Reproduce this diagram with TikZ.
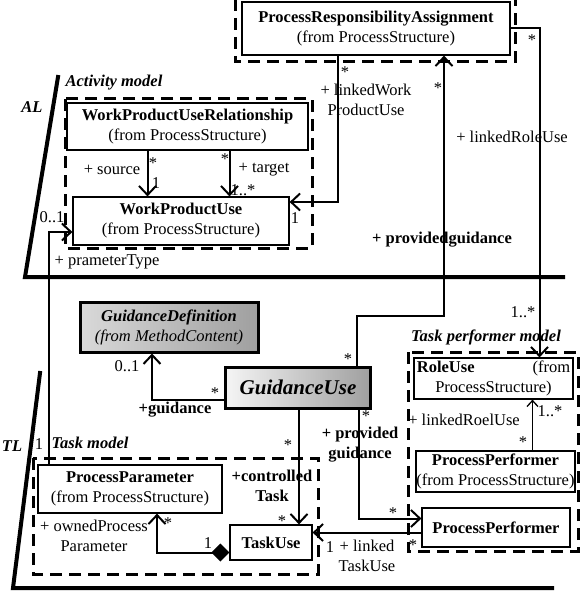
\documentclass[tikz,border=0pt]{standalone}
\usepackage{fontspec}
\setmainfont{Liberation Serif}
\usetikzlibrary{arrows.meta, calc, positioning}
\newcommand{\umlsize}{\fontsize{16.5}{20}\selectfont}
\tikzset{
  % classe UML
  umlclass/.style={draw=black, line width=1.2pt, fill=white, align=center,
    inner sep=0pt, font=\umlsize},
  % classe evidenziata (sfumata)
  keyclass/.style={umlclass, line width=3pt, left color=gray!8, right color=gray!75},
  % package tratteggiato
  pkgbox/.style={draw=black, line width=3pt, dash pattern=on 12pt off 7pt},
  % separatore di livello
  layerline/.style={line width=4pt, line cap=rect},
  % associazioni
  assoc/.style={line width=2pt, -{Straight Barb[length=9pt,width=17pt]}},
  thinassoc/.style={line width=1.3pt, -{Straight Barb[length=6pt,width=11pt]}},
  compos/.style={line width=2pt, {Diamond[length=18pt,width=18pt]}-{Straight Barb[length=9pt,width=17pt]}},
  % etichette
  lbl/.style={font=\umlsize, inner sep=0pt, align=center},
  blbl/.style={font=\umlsize\bfseries, inner sep=0pt, align=center},
  pkglbl/.style={font=\umlsize\bfseries\itshape, inner sep=0pt},
}

\begin{document}
\begin{tikzpicture}[x=1pt, y=-1pt]
  \useasboundingbox (0,0) rectangle (580,591);
  % livelli
  \draw[layerline] (58,77) -- (25,277) -- (563,277);
  \draw[layerline] (40,373) -- (13,588) -- (552,588);
  \node[pkglbl] (al) at (32,107) {AL};
  \node[pkglbl] (tl) at (12,446) {TL};
  % package
  \draw[pkgbox] (235,-20) rectangle (515,62);
  \draw[pkgbox] (65,99) rectangle (312,248);
  \draw[pkgbox] (33,458) rectangle (318,574);
  \draw[pkgbox] (408,352) rectangle (578,551);
  \node[pkglbl] (actmodel) at (114,83) {Activity model};
  \node[pkglbl] (taskmodel) at (90,443) {Task model};
  \node[pkglbl] (perfmodel) at (486,337) {Task performer model};
  % classi
  \node[umlclass, minimum width=268pt, minimum height=53pt] (pra) at (376,28.5)
    {\textbf{ProcessResponsibilityAssignment}\\(from ProcessStructure)};
  \node[umlclass, minimum width=241pt, minimum height=47pt] (wpur) at (187.5,126.5)
    {\textbf{WorkProductUseRelationship}\\(from ProcessStructure)};
  \node[umlclass, minimum width=216pt, minimum height=48pt] (wpu) at (181,221)
    {\textbf{WorkProductUse}\\(from ProcessStructure)};
  \node[keyclass, left color=gray!30, minimum width=178pt, minimum height=50pt] (guidedef) at (169,327)
    {\textbf{\textit{GuidanceDefinition}}\\\textit{(from MethodContent)}};
  \node[keyclass, minimum width=145pt, minimum height=41pt,
    font=\fontsize{21}{24}\selectfont\bfseries\itshape] (guideuse) at (298,387.5) {GuidanceUse};
  \node[umlclass, minimum width=159pt, minimum height=41pt] (roleuse) at (493.5,378.5)
    {\textbf{RoleUse}\hspace{58pt}(from\\ProcessStructure)};
  \node[umlclass, minimum width=159pt, minimum height=41pt] (perfin) at (495.5,471.5)
    {\textbf{ProcessPerformer}\\(from ProcessStructure)};
  \node[umlclass, minimum width=148pt, minimum height=39pt] (perfout) at (496,527.5)
    {\textbf{ProcessPerformer}};
  \node[umlclass, minimum width=82pt, minimum height=35pt] (taskuse) at (271,542.5)
    {\textbf{TaskUse}};
  \node[umlclass, minimum width=184pt, minimum height=48pt] (procparam) at (130,489)
    {\textbf{ProcessParameter}\\(from ProcessStructure)};
  % associazioni
  \draw[assoc] ([xshift=-40pt]wpur.south) -- ([xshift=-40pt]wpur.south |- wpu.north);
  \draw[assoc] ([xshift=42pt]wpur.south) -- ([xshift=42pt]wpur.south |- wpu.north);
  \draw[assoc] ([xshift=-38pt]pra.south) |- ([yshift=19pt]wpu.east);
  \draw[assoc] ([xshift=-81pt]procparam.north) |- ([yshift=-11pt]wpu.west);
  \draw[assoc] ([xshift=59pt]guideuse.north) -- ++(0,-50) -| ([xshift=68pt]pra.south);
  \draw[assoc] (pra.east) -| ([xshift=46pt]roleuse.north);
  \draw[thinassoc] ([xshift=37pt]perfin.north) -- ([xshift=37pt]perfin.north |- roleuse.south);
  \draw[assoc] ([yshift=-12pt]guideuse.west) -| ([xshift=-17pt]guidedef.south);
  \draw[assoc] ([xshift=1pt]guideuse.south) -- ([xshift=1pt]guideuse.south |- taskuse.north);
  \draw[assoc] ([xshift=61pt]guideuse.south) |- ([yshift=9pt]perfout.west);
  \draw[assoc] ([yshift=-5pt]perfout.west) -- ([yshift=-5pt]perfout.west -| taskuse.east);
  \draw[compos] ([yshift=-10pt]taskuse.west) -| ([xshift=27pt]procparam.south);
  % ruoli e molteplicita
  \node[lbl] (srcrole) at (112,170) {+ source};
  \node[lbl] (srcm1) at (153,163) {*};
  \node[lbl] (srcm2) at (156,183) {1};
  \node[lbl] (tgtm1) at (225,159) {*};
  \node[lbl] (tgtrole) at (264,170) {+ target};
  \node[lbl] (tgtm2) at (243,190) {1..*};
  \node[lbl] (lwpum1) at (345,72) {*};
  \node[lbl] (lwpurole) at (366,100) {+ linkedWork\\ProductUse};
  \node[lbl] (lwpum2) at (295,218) {1};
  \node[lbl] (ptm1) at (52,217) {0..1};
  \node[lbl] (ptrole) at (107,262) {+ prameterType};
  \node[lbl] (ptm2) at (39,444) {1};
  \node[lbl] (pgm1) at (438,88) {*};
  \node[blbl] (pgrole) at (442,240) {+ providedguidance};
  \node[lbl] (pgm2) at (348,359) {*};
  \node[lbl] (lrum1) at (532,40) {*};
  \node[lbl] (lrurole) at (512,137) {+ linkedRoleUse};
  \node[lbl] (lrum2) at (523,312) {1..*};
  \node[lbl] (gm1) at (127,366) {0..1};
  \node[lbl] (gm2) at (215,393) {*};
  \node[blbl] (grole) at (175,410) {+guidance};
  \node[lbl] (ppgm1) at (366,416) {*};
  \node[blbl] (ppgrole) at (360,445) {+ provided\\guidance};
  \node[lbl] (ppgm2) at (393,513) {*};
  \node[lbl] (ctm1) at (288,445) {*};
  \node[blbl] (ctrole) at (272,486) {+controlled\\Task};
  \node[lbl] (ctm2) at (282,521) {*};
  \node[lbl] (ltum1) at (413,545) {*};
  \node[lbl] (ltum2) at (330,547) {1};
  \node[lbl] (lturole) at (367,556) {+ linked\\TaskUse};
  \node[lbl] (lrlrole) at (464,420) {+ linkedRoelUse};
  \node[lbl] (lrlm1) at (550,411) {1..*};
  \node[lbl] (lrlm2) at (523,442) {*};
  \node[lbl] (opm1) at (208,543) {1};
  \node[lbl] (opm2) at (168,523) {*};
  \node[lbl] (oprole) at (94,536) {+ ownedProcess\\Parameter};
\end{tikzpicture}
\end{document}
